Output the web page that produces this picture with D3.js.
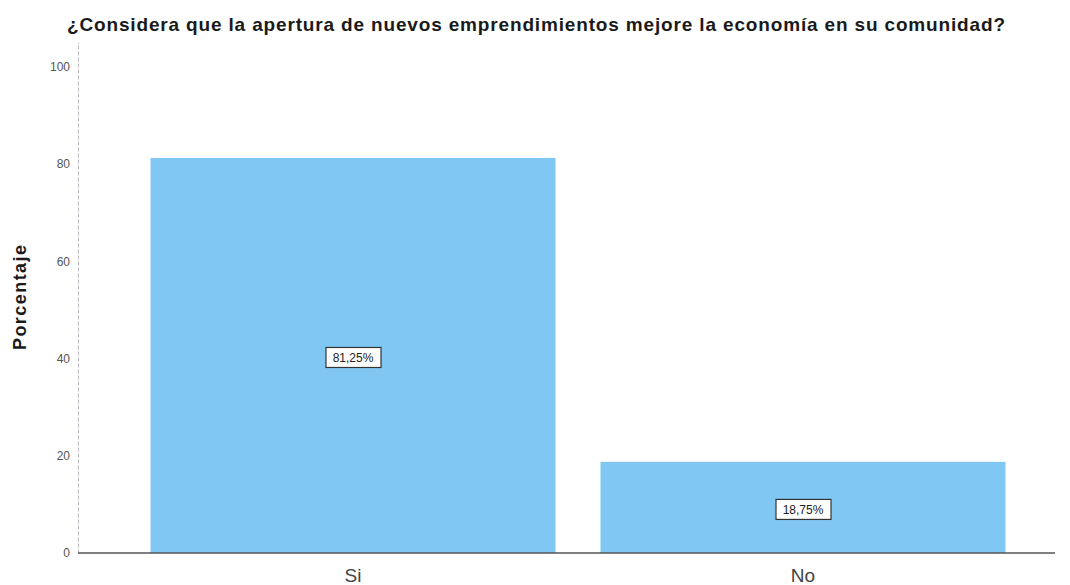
<!DOCTYPE html>
<html>
<head>
<meta charset="utf-8">
<script src="https://cdn.jsdelivr.net/npm/d3@7"></script>
<style>
  body { margin: 0; background: #fff; }
  text { font-family: "Liberation Sans", Arial, sans-serif; }
</style>
</head>
<body>
<div id="chart"></div>
<script>
// data
var categories = ["Si", "No"];
var percentages = [81.25, 18.75];
var valueLabels = ["81,25%", "18,75%"];
var yTicks = [0, 20, 40, 60, 80, 100];
var chartTitle = "¿Considera que la apertura de nuevos emprendimientos mejore la economía en su comunidad?";
var yTitle = "Porcentaje";

var width = 1070, height = 585;
var svg = d3.select("#chart").append("svg")
    .attr("width", width)
    .attr("height", height);

var x = d3.scaleBand()
    .domain(categories)
    .range([128, 1028])
    .paddingInner(0.1)
    .paddingOuter(0.05);

var y = d3.scaleLinear()
    .domain([0, 105.1])
    .range([553, 42]);

// title
svg.append("text")
    .attr("x", 67)
    .attr("y", 31)
    .attr("textLength", 938)
    .attr("lengthAdjust", "spacing")
    .style("font-size", "19px")
    .style("font-weight", "bold")
    .attr("fill", "#1a1a1a")
    .text(chartTitle);

// y axis title
svg.append("text")
    .attr("transform", "translate(26,350) rotate(-90)")
    .attr("textLength", 105)
    .attr("lengthAdjust", "spacing")
    .style("font-size", "18px")
    .style("font-weight", "bold")
    .attr("fill", "#1a1a1a")
    .text(yTitle);

// bars
svg.selectAll(".bar")
    .data(percentages)
    .enter().append("rect")
    .attr("class", "bar")
    .attr("x", function(d, i){ return x(categories[i]); })
    .attr("width", x.bandwidth())
    .attr("y", function(d){ return y(d); })
    .attr("height", function(d){ return y(0) - y(d); })
    .attr("fill", "#80c7f4");

// y axis
var yAxis = svg.append("g")
    .attr("transform", "translate(78,0)")
    .call(d3.axisLeft(y).tickValues(yTicks).tickSize(0).tickPadding(8));
yAxis.select(".domain")
    .attr("stroke", "#b8b8c0")
    .attr("stroke-dasharray", "4,2");
yAxis.selectAll("text")
    .style("font-size", "12px")
    .attr("fill", "#555");

// x axis
var xAxis = svg.append("g")
    .attr("transform", "translate(0,553)");
xAxis.append("line")
    .attr("x1", 78).attr("x2", 1055)
    .attr("stroke", "#555").attr("stroke-width", 1.5);
xAxis.selectAll(".xlab")
    .data(categories)
    .enter().append("text")
    .attr("class", "xlab")
    .attr("x", function(d){ return x(d) + x.bandwidth() / 2; })
    .attr("y", 29)
    .attr("text-anchor", "middle")
    .style("font-size", "19px")
    .attr("fill", "#444")
    .text(function(d){ return d; });

// value labels
var labels = svg.selectAll(".vlab")
    .data(percentages)
    .enter().append("g")
    .attr("class", "vlab")
    .attr("transform", function(d, i){
        return "translate(" + (x(categories[i]) + x.bandwidth() / 2) + "," + ((y(d) + y(0)) / 2 + 2) + ")";
    });

labels.append("rect")
    .attr("x", -27).attr("y", -10)
    .attr("width", 55).attr("height", 20)
    .attr("fill", "#fff")
    .attr("stroke", "#333")
    .attr("stroke-width", 1.2);

labels.append("text")
    .attr("text-anchor", "middle")
    .attr("dy", "0.35em")
    .style("font-size", "12px")
    .attr("fill", "#222")
    .text(function(d, i){ return valueLabels[i]; });
</script>
</body>
</html>
